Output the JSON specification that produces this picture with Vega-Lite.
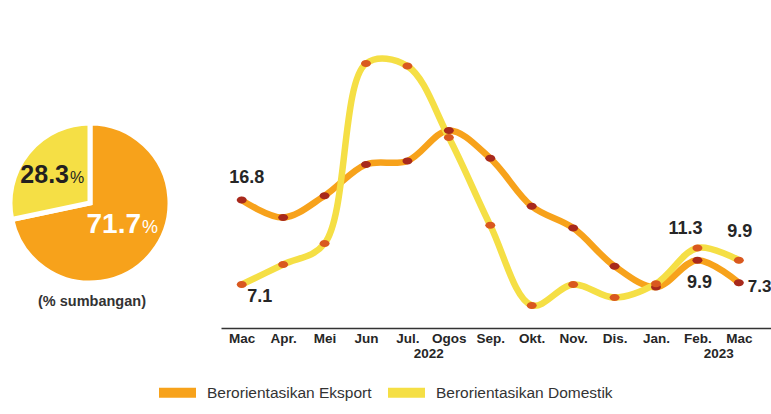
{
  "$schema": "https://vega.github.io/schema/vega-lite/v6.json",
  "padding": 0,
  "spacing": 45,
  "bounds": "flush",
  "resolve": {"legend": {"stroke": "independent", "fill": "independent"}, "scale": {"stroke": "independent", "fill": "independent"}},
  "config": {"view": {"stroke": null}, "font": "Liberation Sans"},
  "datasets": {
    "pie": [
      {"series": "Berorientasikan Eksport", "share": 71.7},
      {"series": "Berorientasikan Domestik", "share": 28.3}
    ],
    "lines": [
      {"idx": 0, "month": "Mac 2022", "series": "Berorientasikan Eksport", "value": 16.8},
      {"idx": 1, "month": "Apr. 2022", "series": "Berorientasikan Eksport", "value": 14.8},
      {"idx": 2, "month": "Mei 2022", "series": "Berorientasikan Eksport", "value": 17.3},
      {"idx": 3, "month": "Jun 2022", "series": "Berorientasikan Eksport", "value": 20.9},
      {"idx": 4, "month": "Jul. 2022", "series": "Berorientasikan Eksport", "value": 21.3},
      {"idx": 5, "month": "Ogos 2022", "series": "Berorientasikan Eksport", "value": 24.8},
      {"idx": 6, "month": "Sep. 2022", "series": "Berorientasikan Eksport", "value": 21.6},
      {"idx": 7, "month": "Okt. 2022", "series": "Berorientasikan Eksport", "value": 16.1},
      {"idx": 8, "month": "Nov. 2022", "series": "Berorientasikan Eksport", "value": 13.6},
      {"idx": 9, "month": "Dis. 2022", "series": "Berorientasikan Eksport", "value": 9.2},
      {"idx": 10, "month": "Jan. 2023", "series": "Berorientasikan Eksport", "value": 6.8},
      {"idx": 11, "month": "Feb. 2023", "series": "Berorientasikan Eksport", "value": 9.9},
      {"idx": 12, "month": "Mac 2023", "series": "Berorientasikan Eksport", "value": 7.3},
      {"idx": 0, "month": "Mac 2022", "series": "Berorientasikan Domestik", "value": 7.1},
      {"idx": 1, "month": "Apr. 2022", "series": "Berorientasikan Domestik", "value": 9.4},
      {"idx": 2, "month": "Mei 2022", "series": "Berorientasikan Domestik", "value": 11.8},
      {"idx": 3, "month": "Jun 2022", "series": "Berorientasikan Domestik", "value": 32.5},
      {"idx": 4, "month": "Jul. 2022", "series": "Berorientasikan Domestik", "value": 32.2},
      {"idx": 5, "month": "Ogos 2022", "series": "Berorientasikan Domestik", "value": 24.0},
      {"idx": 6, "month": "Sep. 2022", "series": "Berorientasikan Domestik", "value": 13.9},
      {"idx": 7, "month": "Okt. 2022", "series": "Berorientasikan Domestik", "value": 4.7},
      {"idx": 8, "month": "Nov. 2022", "series": "Berorientasikan Domestik", "value": 7.1},
      {"idx": 9, "month": "Dis. 2022", "series": "Berorientasikan Domestik", "value": 5.6},
      {"idx": 10, "month": "Jan. 2023", "series": "Berorientasikan Domestik", "value": 7.2},
      {"idx": 11, "month": "Feb. 2023", "series": "Berorientasikan Domestik", "value": 11.3},
      {"idx": 12, "month": "Mac 2023", "series": "Berorientasikan Domestik", "value": 9.9}
    ]
  },
  "hconcat": [
    {
      "width": 172,
      "height": 406,
      "data": {"name": "pie"},
      "layer": [
        {
          "mark": {"type": "arc", "radius": 80, "stroke": "white", "strokeWidth": 5},
          "encoding": {
            "theta": {"field": "share", "type": "quantitative", "stack": true},
            "order": {"field": "share", "sort": "descending"},
            "fill": {
              "field": "series", "type": "nominal",
              "scale": {"domain": ["Berorientasikan Eksport", "Berorientasikan Domestik"], "range": ["#F7A21B", "#F5DF45"]},
              "legend": null
            }
          }
        },
        {
          "transform": [{"filter": "datum.series == 'Berorientasikan Domestik'"}],
          "mark": {"type": "text", "align": "right", "baseline": "alphabetic", "dx": -21, "dy": -20, "fontSize": 25, "fontWeight": "bold", "fill": "#231F20"},
          "encoding": {"text": {"field": "share", "type": "quantitative", "format": ".1f"}}
        },
        {
          "transform": [{"filter": "datum.series == 'Berorientasikan Domestik'"}],
          "mark": {"type": "text", "align": "left", "baseline": "alphabetic", "dx": -20, "dy": -20, "fontSize": 16, "fill": "#231F20", "text": "%"},
          "encoding": {}
        },
        {
          "transform": [{"filter": "datum.series == 'Berorientasikan Eksport'"}],
          "mark": {"type": "text", "align": "right", "baseline": "alphabetic", "dx": 51, "dy": 30, "fontSize": 28, "fontWeight": "bold", "fill": "white"},
          "encoding": {"text": {"field": "share", "type": "quantitative", "format": ".1f"}}
        },
        {
          "transform": [{"filter": "datum.series == 'Berorientasikan Eksport'"}],
          "mark": {"type": "text", "align": "left", "baseline": "alphabetic", "dx": 52, "dy": 30, "fontSize": 18, "fill": "white", "text": "%"},
          "encoding": {}
        },
        {
          "transform": [{"filter": "datum.series == 'Berorientasikan Eksport'"}],
          "mark": {"type": "text", "baseline": "middle", "dx": 2, "dy": 99, "fontSize": 14.5, "fontWeight": "bold", "fill": "#333333", "text": "(% sumbangan)"},
          "encoding": {}
        }
      ]
    },
    {
      "width": 551,
      "height": 328,
      "data": {"name": "lines"},
      "encoding": {
        "x": {
          "field": "idx", "type": "quantitative",
          "scale": {"domain": [-0.5, 12.8], "nice": false, "zero": false},
          "axis": {
            "values": [0, 1, 2, 3, 4, 4.5, 5, 6, 7, 8, 9, 10, 11, 11.5, 12],
            "labelExpr": "datum.value == 4.5 ? ['', '2022'] : datum.value == 11.5 ? ['', '2023'] : ['Mac','Apr.','Mei','Jun','Jul.','Ogos','Sep.','Okt.','Nov.','Dis.','Jan.','Feb.','Mac'][datum.value]",
            "title": null, "grid": false, "ticks": false,
            "domainColor": "#333333", "domainWidth": 1.5,
            "labelFontSize": 13.5, "labelFontWeight": "bold", "labelColor": "#262626",
            "labelPadding": 3, "labelLineHeight": 15,
            "labelOverlap": false, "labelFlush": false, "labelBound": false
          }
        },
        "y": {
          "field": "value", "type": "quantitative",
          "scale": {"domain": [2.1, 39.8], "nice": false, "zero": false},
          "axis": null
        }
      },
      "layer": [
        {
          "mark": {"type": "line", "interpolate": "catmull-rom", "strokeWidth": 6.5, "strokeCap": "round"},
          "encoding": {
            "stroke": {
              "field": "series", "type": "nominal",
              "scale": {"domain": ["Berorientasikan Eksport", "Berorientasikan Domestik"], "range": ["#F7A21B", "#F5DF45"]},
              "legend": {
                "orient": "none", "legendX": -67, "legendY": 369, "direction": "horizontal", "title": null,
                "symbolType": "stroke", "symbolSize": 1369, "symbolStrokeWidth": 10, "symbolOpacity": 1,
                "labelFontSize": 15.5, "labelFont": "Liberation Sans", "labelColor": "#333333", "labelLimit": 400,
                "labelOffset": 6, "columnPadding": -4
              }
            }
          }
        },
        {
          "transform": [{"filter": "datum.series == 'Berorientasikan Eksport'"}],
          "mark": {"type": "point", "filled": true, "opacity": 1, "fill": "#A8291C", "size": 100, "strokeWidth": 0, "shape": "M-1,0A1,0.7,0,1,0,1,0A1,0.7,0,1,0,-1,0Z"}
        },
        {
          "transform": [{"filter": "datum.series == 'Berorientasikan Domestik'"}],
          "mark": {"type": "point", "filled": true, "opacity": 1, "fill": "#D9581F", "size": 100, "strokeWidth": 0, "shape": "M-1,0A1,0.7,0,1,0,1,0A1,0.7,0,1,0,-1,0Z"}
        },
        {
          "transform": [{"filter": "datum.series == 'Berorientasikan Eksport' && datum.idx == 0"}],
          "mark": {"type": "text", "fontSize": 18, "fontWeight": "bold", "fill": "#262626", "baseline": "middle", "dx": 5, "dy": -22},
          "encoding": {"text": {"field": "value", "type": "quantitative", "format": ".1f"}}
        },
        {
          "transform": [{"filter": "datum.series == 'Berorientasikan Domestik' && datum.idx == 0"}],
          "mark": {"type": "text", "fontSize": 18, "fontWeight": "bold", "fill": "#262626", "baseline": "middle", "dx": 18, "dy": 13},
          "encoding": {"text": {"field": "value", "type": "quantitative", "format": ".1f"}}
        },
        {
          "transform": [{"filter": "datum.series == 'Berorientasikan Domestik' && datum.idx == 11"}],
          "mark": {"type": "text", "fontSize": 18, "fontWeight": "bold", "fill": "#262626", "baseline": "middle", "dx": -12, "dy": -19},
          "encoding": {"text": {"field": "value", "type": "quantitative", "format": ".1f"}}
        },
        {
          "transform": [{"filter": "datum.series == 'Berorientasikan Domestik' && datum.idx == 12"}],
          "mark": {"type": "text", "fontSize": 18, "fontWeight": "bold", "fill": "#262626", "baseline": "middle", "dx": 1, "dy": -28},
          "encoding": {"text": {"field": "value", "type": "quantitative", "format": ".1f"}}
        },
        {
          "transform": [{"filter": "datum.series == 'Berorientasikan Eksport' && datum.idx == 11"}],
          "mark": {"type": "text", "fontSize": 18, "fontWeight": "bold", "fill": "#262626", "baseline": "middle", "dx": 2, "dy": 23},
          "encoding": {"text": {"field": "value", "type": "quantitative", "format": ".1f"}}
        },
        {
          "transform": [{"filter": "datum.series == 'Berorientasikan Eksport' && datum.idx == 12"}],
          "mark": {"type": "text", "fontSize": 17, "fontWeight": "bold", "fill": "#262626", "baseline": "middle", "align": "left", "dx": 9, "dy": 4},
          "encoding": {"text": {"field": "value", "type": "quantitative", "format": ".1f"}}
        },
        {
          "data": {"values": [{"note": "(% YoY)"}]},
          "mark": {"type": "text", "fontSize": 14.5, "fontWeight": "bold", "fill": "#333333", "baseline": "middle"},
          "encoding": {
            "x": {"datum": 11.67, "type": "quantitative"},
            "y": {"datum": 33.9, "type": "quantitative"},
            "text": {"field": "note", "type": "nominal"}
          }
        }
      ]
    }
  ]
}
